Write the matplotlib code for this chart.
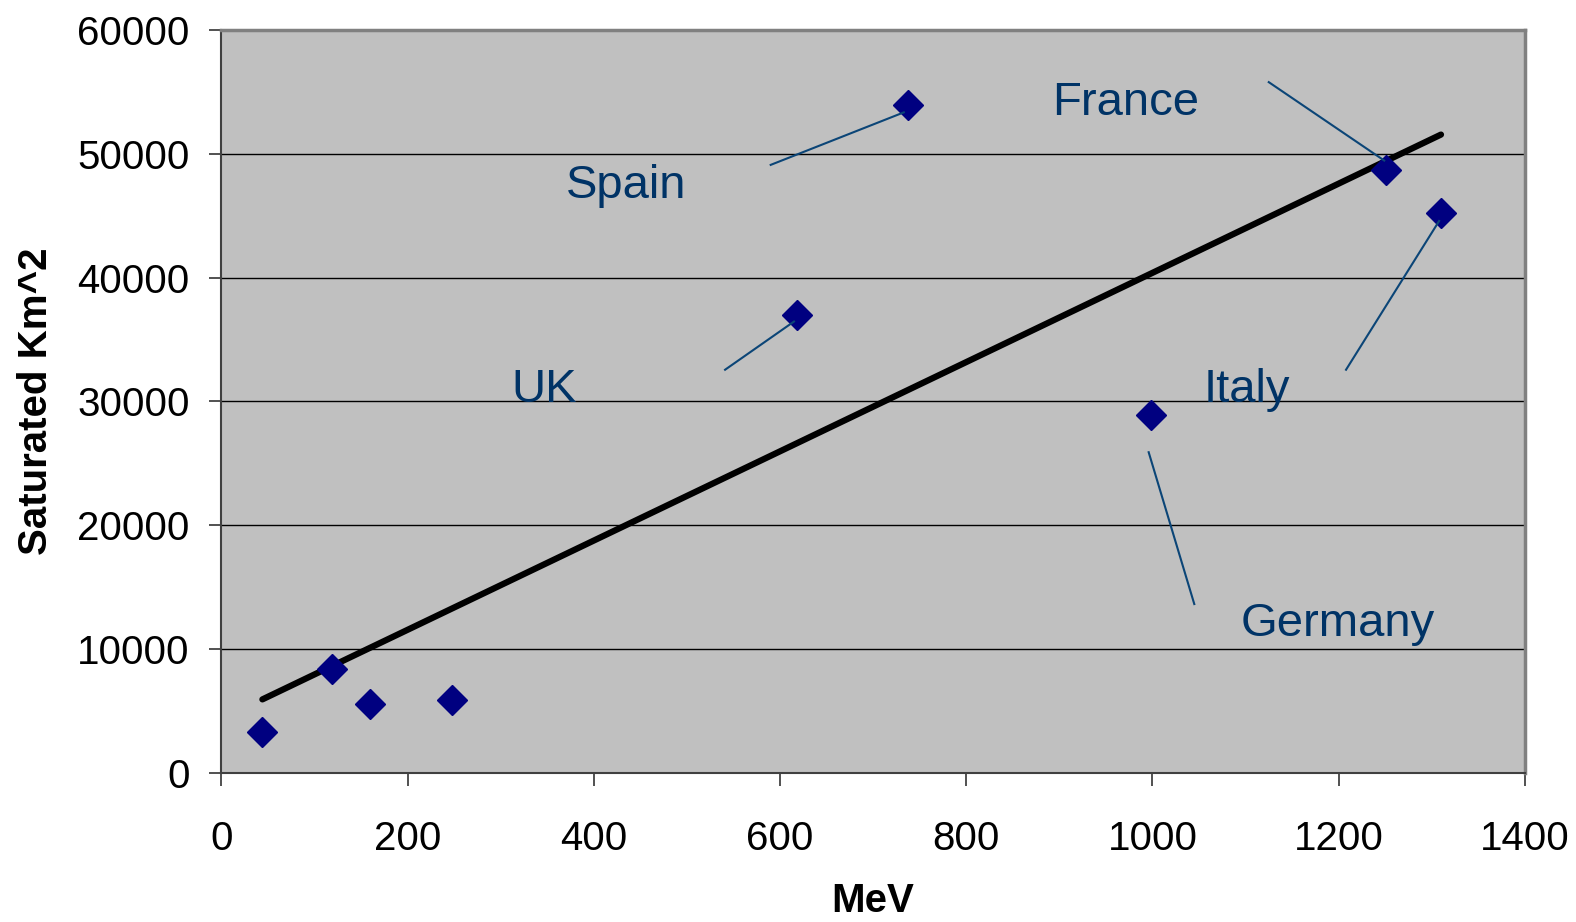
import numpy as np
import matplotlib
matplotlib.use('Agg')
import matplotlib.pyplot as plt

plt.rcParams['font.family'] = ['Liberation Sans', 'DejaVu Sans']

# MeV vs saturated area
mev = [44, 119, 160, 248, 618, 737, 999, 1251, 1310]
km2 = [3290, 8380, 5600, 5870, 37000, 53900, 28900, 48700, 45200]

countries = ['Spain', 'France', 'UK', 'Italy', 'Germany']
# label text positions and leader line start (data coords)
label_xy = [(435, 47400), (971, 54100), (347, 30900), (1102, 30900), (1199, 12000)]
line_from = [(590, 49100), (1125, 55780), (541, 32560), (1208, 32560), (1045, 13640)]
line_to = [(733, 53340), (1249, 49450), (615, 36450), (1308, 44570), (996, 25900)]

xticks = [0, 200, 400, 600, 800, 1000, 1200, 1400]
yticks = [0, 10000, 20000, 30000, 40000, 50000, 60000]

fig = plt.figure(figsize=(15.76, 9.22), dpi=100)
ax = fig.add_axes([0.1405, 0.1616, 0.827, 0.806])
ax.set_facecolor('#C0C0C0')

for y in yticks[1:-1]:
    ax.axhline(y, color='black', lw=1, zorder=1)

# linear trend
k, b = np.polyfit(mev, km2, 1)
xs = np.array([min(mev), max(mev)])
ax.plot(xs, k * xs + b, color='black', lw=4.5, solid_capstyle='round', zorder=3)

ax.plot(mev, km2, 'D', color='#000080', ms=15, mec='#000080', zorder=4)

for name, (tx, ty), p0, p1 in zip(countries, label_xy, line_from, line_to):
    ax.plot([p0[0], p1[0]], [p0[1], p1[1]], color='#0B4577', lw=1.5, zorder=5)
    ax.text(tx, ty, name, fontsize=34, color='#003366', ha='center', va='center', zorder=6)

ax.set_xlim(0, 1400)
ax.set_ylim(0, 60000)
ax.set_xticks(xticks)
ax.set_yticks(yticks)
ax.tick_params(axis='both', direction='out', length=9, width=1.2, labelsize=29, color='#333333')
ax.tick_params(axis='x', pad=25)
ax.tick_params(axis='y', pad=14)

for s in ['top', 'right']:
    ax.spines[s].set_color('#808080')
    ax.spines[s].set_linewidth(2.5)
for s in ['left', 'bottom']:
    ax.spines[s].set_color('#404040')
    ax.spines[s].set_linewidth(1.5)

ax.set_xlabel('MeV', fontsize=29, fontweight='bold', labelpad=17)
ax.set_ylabel('Saturated Km^2', fontsize=29, fontweight='bold', labelpad=16)

fig.savefig('out.png', dpi=100)
